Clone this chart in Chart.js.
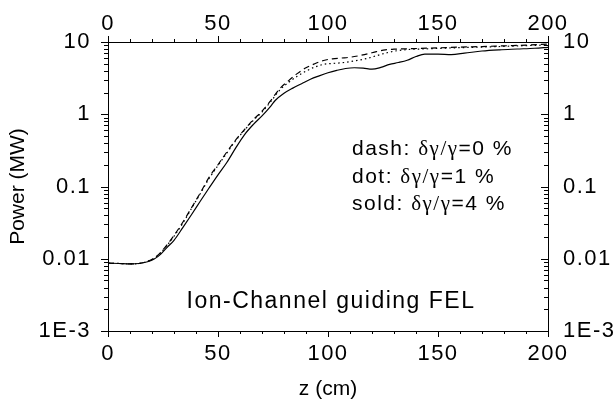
<!DOCTYPE html>
<html lang="en">
<head>
    <meta charset="UTF-8">
    <title>Ion-Channel guiding FEL</title>
    <script src="https://cdn.jsdelivr.net/npm/chart.js"></script>
    <style>
        body {
            margin: 0;
            background: #fff;
        }
    </style>
</head>
<body>
    <canvas id="felChart" width="614" height="411"></canvas>
    <script>
        // axis ticks
        const zTicks = [0, 50, 100, 150, 200];
        const pTicks = [0.001, 0.01, 0.1, 1, 10];
        const pTickLabels = ['1E-3', '0.01', '0.1', '1', '10'];

        // solid: dg/g = 4 %
        const zSolid = [0, 5, 10, 14, 18, 21, 24, 27, 30, 34, 38, 42, 46, 50, 54, 58, 62, 66, 70, 74, 76, 80, 84, 88, 92, 96, 100, 104, 108, 112, 116, 120, 124, 128, 132, 136, 140, 144, 150, 156, 162, 170, 178, 186, 194, 200];
        const pSolid = [0.0087, 0.0086, 0.0085, 0.0086, 0.0091, 0.0099, 0.0116, 0.0145, 0.018, 0.027, 0.041, 0.063, 0.096, 0.145, 0.215, 0.34, 0.52, 0.72, 0.95, 1.3, 1.55, 1.95, 2.3, 2.65, 3.05, 3.4, 3.75, 4.05, 4.3, 4.4, 4.35, 4.2, 4.45, 4.9, 5.2, 5.6, 6.3, 6.8, 6.8, 6.7, 7.0, 7.5, 7.8, 8.0, 8.2, 8.45];

        // dash: dg/g = 0 %, dot: dg/g = 1 %
        const zDash = [0, 5, 10, 14, 18, 21, 24, 27, 30, 34, 38, 42, 46, 50, 54, 58, 62, 66, 70, 74, 78, 82, 86, 90, 94, 98, 102, 106, 110, 114, 118, 122, 126, 130, 136, 142, 150, 160, 170, 180, 190, 200];
        const pDash = [0.0087, 0.0086, 0.0085, 0.0086, 0.0092, 0.0102, 0.0123, 0.0158, 0.021, 0.032, 0.051, 0.082, 0.135, 0.2, 0.3, 0.44, 0.61, 0.84, 1.1, 1.55, 2.25, 2.9, 3.65, 4.4, 5.0, 5.55, 5.85, 6.0, 6.15, 6.45, 6.85, 7.35, 7.8, 7.95, 8.05, 8.15, 8.3, 8.5, 8.65, 8.85, 9.05, 9.35];
        const zDot = zDash;
        const pDot = [0.0087, 0.0086, 0.0085, 0.0086, 0.0092, 0.0101, 0.0121, 0.0155, 0.0205, 0.031, 0.05, 0.08, 0.13, 0.195, 0.29, 0.43, 0.6, 0.82, 1.07, 1.5, 2.15, 2.75, 3.35, 3.95, 4.5, 4.9, 5.05, 5.15, 5.35, 5.6, 5.95, 6.45, 7.0, 7.45, 7.85, 8.0, 8.15, 8.35, 8.5, 8.7, 8.9, 9.1];

        const legendLines = [['dash: ', '=0 %'], ['dot: ', '=1 %'], ['sold: ', '=4 %']];
        const noteText = 'Ion-Channel guiding FEL';

        const sans = '"Liberation Sans", Arial, sans-serif';
        const serif = '"Liberation Serif", "Times New Roman", serif';
        const tickFont = { family: sans, size: 22 };
        const titleFont = { family: sans, size: 21 };

        function points(zs, ps) {
            return zs.map((z, i) => ({ x: z, y: ps[i] }));
        }

        // the exported figure is a bit wide, so the tick labels get letter spacing
        const decorations = {
            id: 'decorations',
            afterDatasetsDraw(chart) {
                chart.ctx.letterSpacing = '1.5px';
            },
            afterDraw(chart) {
                const ctx = chart.ctx;
                const a = chart.chartArea;
                const xs = chart.scales.x;
                const ys = chart.scales.y;
                ctx.save();
                ctx.strokeStyle = '#000';
                ctx.lineWidth = 1;
                ctx.beginPath();
                for (let v = 0; v <= 200; v += 10) {
                    const len = v % 50 === 0 ? 6 : 3;
                    const px = Math.round(xs.getPixelForValue(v)) + 0.5;
                    ctx.moveTo(px, a.bottom);
                    ctx.lineTo(px, a.bottom + len);
                    ctx.moveTo(px, a.top);
                    ctx.lineTo(px, a.top - len);
                }
                for (let e = -3; e <= 1; e++) {
                    for (let m = 1; m <= 9; m++) {
                        const v = m * Math.pow(10, e);
                        if (v > 10.001) break;
                        const len = m === 1 ? 7 : 4;
                        const py = Math.round(ys.getPixelForValue(v)) + 0.5;
                        ctx.moveTo(a.left, py);
                        ctx.lineTo(a.left - len, py);
                        ctx.moveTo(a.right, py);
                        ctx.lineTo(a.right - len, py);
                    }
                }
                ctx.stroke();

                ctx.fillStyle = '#000';
                ctx.textBaseline = 'alphabetic';
                ctx.letterSpacing = '1.5px';
                legendLines.forEach((ln, i) => {
                    let tx = a.left + 244;
                    const ty = a.top + 113 + i * 27.5;
                    ctx.font = '21px ' + sans;
                    ctx.fillText(ln[0], tx, ty);
                    tx += ctx.measureText(ln[0]).width;
                    ctx.font = '21px ' + serif;
                    ctx.fillText('δγ/γ', tx, ty);
                    tx += ctx.measureText('δγ/γ').width;
                    ctx.font = '21px ' + sans;
                    ctx.fillText(ln[1], tx, ty);
                });

                ctx.textAlign = 'center';
                ctx.font = '23px ' + sans;
                ctx.fillText(noteText, a.left + 223, a.top + 266);
                ctx.restore();
                ctx.letterSpacing = '0px';
            }
        };

        function zAxis(position, height) {
            return {
                type: 'linear',
                position: position,
                min: 0,
                max: 200,
                afterBuildTicks: s => { s.ticks = zTicks.map(v => ({ value: v })); },
                afterFit: s => { s.height = height; },
                grid: { display: false },
                border: { color: '#000', width: 1 },
                ticks: { color: '#000', font: tickFont, padding: position === 'top' ? -3 : 2, maxRotation: 0, z: 1 }
            };
        }

        function pAxis(position, width) {
            return {
                type: 'logarithmic',
                position: position,
                min: 0.001,
                max: 10,
                afterBuildTicks: s => { s.ticks = pTicks.map(v => ({ value: v })); },
                afterFit: s => { s.width = width; },
                grid: { display: false },
                border: { color: '#000', width: 1 },
                ticks: {
                    color: '#000',
                    font: tickFont,
                    padding: position === 'left' ? 9 : 7,
                    z: 1,
                    callback: (v, i) => pTickLabels[i]
                }
            };
        }

        const xBottom = zAxis('bottom', 80);
        xBottom.title = { display: true, text: 'z (cm)', color: '#000', font: titleFont, padding: { top: 0, bottom: 9 } };
        const yLeft = pAxis('left', 108);
        yLeft.title = { display: true, text: 'Power (MW)', color: '#000', font: titleFont, padding: { top: 6, bottom: 0 } };

        const lineStyle = {
            borderColor: '#000',
            borderWidth: 1.2,
            pointRadius: 0,
            fill: false,
            cubicInterpolationMode: 'monotone'
        };

        new Chart(document.getElementById('felChart'), {
            type: 'line',
            data: {
                datasets: [
                    Object.assign({ label: 'dash', data: points(zDash, pDash), borderDash: [6, 4] }, lineStyle),
                    Object.assign({ label: 'dot', data: points(zDot, pDot), borderDash: [1.5, 3] }, lineStyle),
                    Object.assign({ label: 'sold', data: points(zSolid, pSolid) }, lineStyle)
                ]
            },
            options: {
                responsive: false,
                animation: false,
                layout: { padding: 0 },
                plugins: {
                    legend: { display: false },
                    tooltip: { enabled: false }
                },
                scales: {
                    x: xBottom,
                    x2: zAxis('top', 42),
                    y: yLeft,
                    y2: pAxis('right', 66)
                }
            },
            plugins: [decorations]
        });
    </script>
</body>
</html>
